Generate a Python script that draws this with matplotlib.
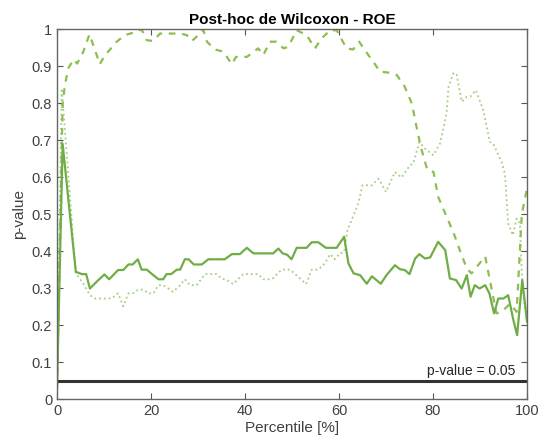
import numpy as np
import matplotlib.pyplot as plt

plt.rcParams['font.family'] = ['Liberation Sans', 'DejaVu Sans']

# Datos
x_solid = [0, 1.2, 4.0, 5.3, 6.2, 7.0, 8.8, 10.1, 11.1, 13.0, 14.1, 15.2, 16.1, 17.2, 18.0,
           19.1, 20.5, 21.6, 22.6, 23.3, 24.3, 25.5, 26.2, 27.2, 28.0, 29.1, 30.8, 32.2, 35.7,
           37.2, 38.9, 40.4, 41.8, 46.0, 47.1, 48.0, 49.0, 49.9, 51.0, 53.1, 54.2, 55.6, 57.2,
           59.5, 61.1, 62.0, 63.1, 64.5, 65.9, 67.0, 68.9, 70.1, 71.9, 73.0, 74.0, 75.0, 76.2,
           77.1, 78.3, 79.4, 81.1, 82.6, 83.6, 84.9, 86.1, 87.2, 88.0, 88.9, 89.9, 91.1, 92.0,
           93.0, 93.9, 95.0, 96.0, 97.1, 97.9, 99.0, 100]
p_solid = [0.03, 0.69, 0.344, 0.338, 0.338, 0.299, 0.322, 0.337, 0.324, 0.349, 0.349, 0.364,
           0.364, 0.378, 0.35, 0.35, 0.335, 0.324, 0.324, 0.338, 0.338, 0.35, 0.35, 0.378, 0.378,
           0.364, 0.364, 0.378, 0.378, 0.392, 0.392, 0.409, 0.394, 0.394, 0.407, 0.394, 0.39,
           0.378, 0.409, 0.409, 0.424, 0.424, 0.409, 0.409, 0.439, 0.367, 0.34, 0.335, 0.312,
           0.332, 0.312, 0.335, 0.362, 0.351, 0.349, 0.338, 0.38, 0.392, 0.38, 0.383, 0.425,
           0.403, 0.326, 0.322, 0.299, 0.335, 0.277, 0.308, 0.299, 0.308, 0.286, 0.232, 0.272,
           0.272, 0.281, 0.214, 0.173, 0.322, 0.21]

x_dash = [0, 1.2, 1.7, 2.4, 3.5, 4.3, 5.6, 6.9, 8.1, 9.1, 10.2, 11.3, 12.7, 14.5, 16.1, 18.0,
          19.1, 20.5, 21.9, 26.2, 27.6, 28.7, 30.1, 31.1, 31.9, 33.6, 35.4, 37.2, 38.1, 40.4,
          42.8, 43.9, 45.3, 46.7, 48.2, 49.2, 51.0, 53.1, 54.9, 56.3, 58.1, 59.5, 61.6, 63.0,
          64.3, 65.5, 67.3, 68.7, 70.9, 72.3, 74.0, 75.5, 76.5, 77.4, 78.8, 80.1, 81.1, 82.9,
          84.3, 85.7, 87.2, 88.2, 89.6, 91.1, 92.1, 93.5, 94.6, 96.4, 97.8, 98.9, 100]
p_dash = [0.03, 0.80, 0.85, 0.894, 0.918, 0.907, 0.939, 0.986, 0.943, 0.905, 0.93, 0.945,
          0.966, 0.984, 0.99, 0.999, 0.97, 0.968, 0.988, 0.988, 0.984, 0.968, 0.984, 0.999,
          0.966, 0.945, 0.939, 0.905, 0.925, 0.925, 0.948, 0.93, 0.966, 0.966, 0.948, 0.952,
          0.997, 0.984, 0.948, 0.975, 0.997, 0.997, 0.948, 0.945, 0.966, 0.943, 0.912, 0.885,
          0.882, 0.876, 0.844, 0.799, 0.736, 0.682, 0.619, 0.614, 0.547, 0.493, 0.452, 0.403,
          0.353, 0.34, 0.362, 0.386, 0.322, 0.232, 0.236, 0.258, 0.236, 0.50, 0.57]

x_dot = [0, 1.0, 4.0, 5.6, 7.0, 8.1, 11.6, 13.0, 14.1, 15.2, 16.1, 17.3, 18.4, 19.4, 20.5,
         21.6, 22.6, 23.7, 24.7, 26.2, 27.2, 28.3, 29.7, 31.5, 34.0, 35.0, 36.1, 37.5, 39.6,
         42.8, 43.9, 45.7, 47.8, 49.6, 51.3, 53.0, 54.2, 55.6, 57.0, 58.1, 59.1, 60.2, 61.1,
         61.8, 63.4, 64.1, 65.0, 67.0, 68.4, 70.0, 71.9, 73.3, 75.1, 75.8, 77.1, 78.3, 80.1,
         81.5, 82.9, 83.3, 84.3, 85.0, 86.1, 87.2, 87.9, 89.1, 90.7, 92.1, 92.8, 94.6, 95.3,
         96.0, 97.0, 97.8, 98.5, 98.9, 99.5, 100]
p_dot = [0.03, 0.84, 0.34, 0.312, 0.281, 0.272, 0.272, 0.286, 0.251, 0.286, 0.286, 0.296,
         0.296, 0.286, 0.286, 0.308, 0.308, 0.299, 0.29, 0.308, 0.324, 0.308, 0.308, 0.338,
         0.338, 0.326, 0.322, 0.311, 0.338, 0.338, 0.324, 0.324, 0.35, 0.35, 0.331, 0.311,
         0.35, 0.35, 0.367, 0.392, 0.378, 0.394, 0.398, 0.457, 0.506, 0.529, 0.578, 0.578,
         0.596, 0.56, 0.614, 0.599, 0.632, 0.637, 0.695, 0.677, 0.659, 0.691, 0.772, 0.844,
         0.88, 0.88, 0.804, 0.817, 0.817, 0.835, 0.781, 0.695, 0.691, 0.641, 0.61, 0.475,
         0.443, 0.488, 0.475, 0.34, 0.25, 0.22]

alpha = 0.05

fig = plt.figure(figsize=(5.43, 4.48), dpi=100)
ax = fig.add_axes([0.105, 0.109, 0.8655, 0.826])

ax.plot(x_dot, p_dot, color='#a5cf85', linestyle=':', linewidth=1.3)
ax.plot(x_dash, p_dash, color='#8cbf4f', linestyle='--', linewidth=1.6, dashes=(3, 3))
ax.plot(x_solid, p_solid, color='#70ad47', linestyle='-', linewidth=1.6)
ax.axhline(alpha, color='#333333', linewidth=2.2)
ax.text(97.5, alpha + 0.008, 'p-value = 0.05', ha='right', va='bottom', fontsize=10,
        color='#262626')

ax.set_xlim(0, 100)
ax.set_ylim(0, 1)
ax.set_xticks(np.arange(0, 101, 20))
ax.set_yticks(np.arange(0, 1.01, 0.1))
ax.set_yticklabels(['0', '0.1', '0.2', '0.3', '0.4', '0.5', '0.6', '0.7', '0.8', '0.9', '1'])
ax.tick_params(direction='in', top=True, right=True, length=4, width=0.8,
               colors='#555555', labelcolor='#404040', labelsize=10.5)
for s in ax.spines.values():
    s.set_color('#666666')
    s.set_linewidth(1.0)

ax.set_xlabel('Percentile [%]', fontsize=11, color='#404040', labelpad=2)
ax.set_ylabel('p-value', fontsize=11, color='#404040', labelpad=4)
ax.set_title('Post-hoc de Wilcoxon - ROE', fontsize=11, fontweight='bold', pad=4)

fig.savefig('out.png', dpi=100)
